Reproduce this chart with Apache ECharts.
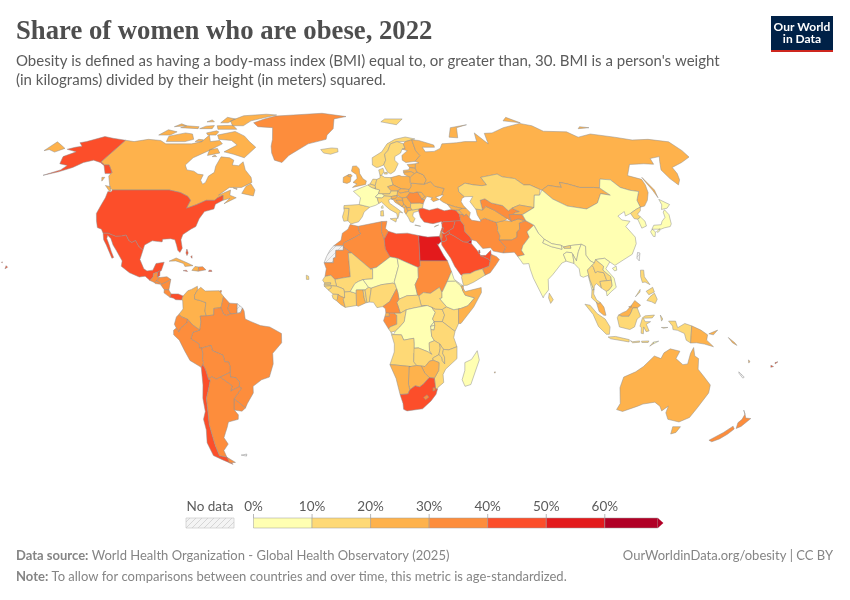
<!DOCTYPE html>
<html>
<head>
<meta charset="utf-8">
<title>Share of women who are obese, 2022</title>
<script src="https://cdn.jsdelivr.net/npm/echarts@6/dist/echarts.min.js"></script>
<style>html,body{margin:0;padding:0;background:#fff}#chart{width:850px;height:600px}</style>
</head>
<body>
<div id="chart"></div>
<script>
// values are estimates read from the colour bands of the picture
var americasNames = ['Canada','United States','Mexico','Greenland','Guatemala','Belize','Honduras','El Salvador','Nicaragua','Costa Rica','Panama','Cuba','Haiti','Dominican Republic','Jamaica','Puerto Rico','Bahamas','Trinidad and Tobago','Colombia','Venezuela','Guyana','Suriname','Brazil','Ecuador','Peru','Bolivia','Paraguay','Uruguay','Chile','Argentina'];
var americasValues = [27,43,41,35,34,42,33,36,37,37,42,28,25,38,41,42,45,38,28,28,35,37,33,33,35,35,35,35,43,37];
var europeNames = ['Iceland','Ireland','United Kingdom','France','Spain','Portugal','Belgium','Netherlands','Luxembourg','Germany','Switzerland','Denmark','Norway','Sweden','Finland','Estonia','Latvia','Lithuania','Poland','Czechia','Slovakia','Hungary','Austria','Slovenia','Croatia','Bosnia and Herzegovina','Serbia','Montenegro','Albania','North Macedonia','Greece','Bulgaria','Romania','Moldova','Ukraine','Belarus','Russia','Italy','Cyprus'];
var europeValues = [19,27,29,9.7,17,20,15,16,18,19,9,15,16,15,22,24,27,27,23,24,22,26,16,21,27,25,26,27,22,26,17,19,33,26,25,26,25,15,16];
var asiaNames = ['Turkey','Georgia','Armenia','Azerbaijan','Syria','Lebanon','Israel','Jordan','Iraq','Saudi Arabia','Kuwait','Qatar','United Arab Emirates','Oman','Yemen','Iran','Afghanistan','Pakistan','Turkmenistan','Uzbekistan','Kazakhstan','Kyrgyzstan','Tajikistan','Mongolia','China','North Korea','South Korea','Japan','India','Nepal','Bhutan','Bangladesh','Sri Lanka','Myanmar','Thailand','Laos','Vietnam','Cambodia','Malaysia','Brunei','Indonesia','Philippines','East Timor'];
var asiaValues = [44,30,27,30,43,41,33,46,46,44,52,47,41,34,18,35,22,31,23,33,17,28,31,27,8,16,8,5,9.8,9,18,9,18,9,15,15,3,15,25,27,15,13,6];
var oceaniaNames = ['Papua New Guinea','Solomon Islands','Vanuatu','Fiji','Australia','New Zealand'];
var oceaniaValues = [25,27,27,42,29,34];
var africaNames = ['Morocco','Algeria','Tunisia','Libya','Egypt','Mauritania','Mali','Senegal','Gambia','Guinea-Bissau','Guinea','Sierra Leone','Liberia','Ivory Coast','Burkina Faso','Ghana','Togo','Benin','Niger','Nigeria','Chad','Sudan','South Sudan','Central African Republic','Cameroon','Equatorial Guinea','Gabon','Congo','DR Congo','Uganda','Rwanda','Burundi','Kenya','Tanzania','Ethiopia','Eritrea','Djibouti','Somalia','Angola','Zambia','Malawi','Mozambique','Zimbabwe','Botswana','Namibia','South Africa','Lesotho','Eswatini','Madagascar','Mauritius','Cape Verde'];
var africaValues = [32,34,38,47,51,33,19,17,18,15,14,15,30,18,8,24,14,14,9,17,9,31,17,15,31,30,35,18,9,16,9,8,15,17,6,7,22,21,15,15,15,11,26,26,24,44,35,38,7,25,17];

var legendTicks = [0,10,20,30,40,50,60];
var legendColors = ['#ffffb2','#fed976','#feb24c','#fd8d3c','#fc4e2a','#e31a1c','#b10026'];

// hand traced, low resolution outlines as lon,lat. There is no map file in the sandbox.
var outlines = {
'Canada':['-141,69.6 -135,69 -128,70 -120,69.5 -115,68 -108,68 -100,68 -95,69 -94,72 -90,69 -85,69.5 -82,68 -87,65 -93,62 -94.5,59 -92,57 -88,56.5 -85,55.3 -82,55 -82,52.9 -80,51.3 -79,52 -79,54.5 -77,56 -78,58.5 -78,62.4 -73,62 -70,61 -69.5,59 -66,58.7 -64.5,60.3 -61.5,57 -57,54 -55.7,52 -60,50 -66,50 -70,47 -65,49 -64.5,47 -61,46 -66,43.7 -64,45.8 -67,45 -67.8,47 -70,46 -71,45 -75,45 -79,43.3 -83,42 -82.5,45 -84.5,46.5 -89,48 -95,49 -123,49 -125,50 -130,54.5 -130,56 -135,59 -137.5,59 -141,60.3','-61.5,66.5 -65,62 -72,63.5 -78,64.5 -73,67.5 -78,69.5 -86,70 -89,72 -80,73.7 -72,71.5 -67,69','-105,69 -116,69 -118,71.5 -110,73 -105,72.5 -101,70','-118,72 -125,72 -123,74.5 -116,73.5','-62,82.5 -70,83 -85,82 -90,79 -85,76.5 -78,76.5 -76,79 -68,81','-80,74.7 -92,74.7 -95,76.5 -85,76.7','-88,80 -95,81 -95,78 -90,78','-105,75 -117,75.5 -115,76.5 -106,76','-90,72 -95,72 -97,73 -92,74 -90,73.5','-80,64 -86,63 -87,65.5 -83,66','-59,47.7 -53,46.7 -53,49 -56,51.5 -58,50.5','-128,50.8 -124,48.5 -123.5,48.5 -125,50.3','-115,76.5 -122,76 -120,77.5','-96,75 -104,75 -102,76.3 -97,76.6','-95,69 -99,69 -98,70 -95,69.8','-100,78.5 -105,78.5 -103,79.5','-83,62.5 -80.5,62.5 -82,63.2','-133,54 -131.5,52.5 -131.5,54','-64,49.8 -62,49.2 -62,49.6'],
'United States':['-123,49 -95,49 -89,48 -84.5,46.5 -82.5,45 -83,42 -79,43.3 -75,45 -71,45 -70,46 -67.8,47 -67,45 -70,43.5 -70,41.7 -74,40.7 -75.5,38 -76,35 -78,34 -81,32 -81.3,30 -80,26.8 -80.7,25.2 -81.8,26 -82.8,28 -84,30 -86,30.4 -89.5,30.2 -89.5,29.2 -91,29.3 -94,29.6 -97,28 -97.2,26 -99.5,27.5 -101.5,29.7 -103,29 -104.5,29.7 -106.5,31.8 -108.2,31.4 -111,31.3 -114.8,32.5 -117.1,32.5 -118.5,34 -120.6,34.6 -122.4,37.2 -124,40 -124,43 -124,46 -124.7,48.4 -123,48.2','-141,69.6 -150,70.5 -156.5,71.3 -163,69 -166,68.5 -162,67 -165,66.5 -168,65.6 -161,64.5 -165,62.5 -162,59.5 -157,58.8 -158,57 -164,54.8 -158,56.2 -153,58 -150,60 -146,61 -141,60 -137.5,58.8 -133,55.5 -130,55.5 -130,56 -135,59 -137.5,59 -141,60.3','-156,19 -155,19.6 -155.8,20.2','-158.2,21.4 -157.7,21.3 -158,21.7'],
'Mexico':['-114.8,32.5 -111,31.3 -108.2,31.4 -106.5,31.8 -104.5,29.7 -103,29 -101.5,29.7 -99.5,27.5 -97.2,26 -97.8,22.5 -95.5,19 -94,18.2 -91.5,18.5 -90.5,21 -87,21.5 -87.8,18.3 -89,17.9 -91,17.2 -91,16 -92.2,14.6 -94.5,16.2 -97,15.9 -101.5,17.5 -105.5,20 -105.5,22 -109,26 -111,28 -112.8,30.5 -114.7,31.7 -114.6,30.5 -112.7,28 -111,25.5 -109.5,23.3 -110.2,23 -112,25.5 -114,28 -115.8,30 -117.1,32.5'],
'Greenland':['-73,78 -68,76 -58,75.5 -54,70 -53,67 -51,64 -48,61 -43.5,60 -41,63 -32,68 -22,70 -22,72 -19,75 -20,80 -12,81.5 -30,83.6 -50,82.5 -62,81.8 -68,80'],
'Guatemala':['-92.2,14.6 -91,16 -91,17.2 -89.2,17.8 -89.2,15.9 -88.3,15.7 -89.3,14.4 -90.2,13.8'],
'Belize':['-89.2,17.8 -88.3,18.4 -88.2,16.3 -89.2,15.9'],
'Honduras':['-88.3,15.7 -85,16 -83.2,15 -85,14 -87.4,13 -87.7,13.7 -89.3,14.4'],
'El Salvador':['-90.2,13.8 -89.3,14.4 -87.7,13.7 -87.8,13.2 -89.8,13.4'],
'Nicaragua':['-87.4,13 -85,14 -83.2,15 -83.7,11 -85.7,11.1'],
'Costa Rica':['-85.7,11.1 -83.7,11 -82.6,9.5 -83,8.2 -85.7,9.9'],
'Panama':['-83,8.2 -82.6,9.5 -79.5,9.5 -77.4,8.7 -77.9,7.2 -80.5,7.3 -81.5,7.9'],
'Cuba':['-84.9,21.9 -82,23.1 -77,21.3 -74.2,20.2 -77.7,19.9 -78.5,21 -82,22'],
'Haiti':['-74.5,18.4 -71.7,18.1 -71.7,19.7 -73.3,19.9'],
'Dominican Republic':['-71.7,18.1 -68.4,18.6 -69.9,19.8 -71.7,19.7'],
'Jamaica':['-78.3,18.3 -76.3,18 -76.9,18.5'],
'Puerto Rico':['-67.2,18 -65.7,18 -66,18.5 -67,18.5'],
'Bahamas':['-78,25 -77.4,24 -77,25 -77.9,26.5','-75.7,23.5 -75,23 -75.2,24'],
'Trinidad and Tobago':['-61.9,10 -61,10.1 -61,10.8 -61.7,10.7'],
'Colombia':['-77.4,8.7 -75.5,10.7 -74,11.2 -71.5,12.4 -71.3,11 -72.5,9 -72.4,7.5 -70,7 -67.5,6.2 -67.8,3 -67.2,1.2 -69.8,1.1 -69.5,-1 -70,-4.2 -73,-2.3 -75.2,-0.1 -77.7,0.8 -79,1.7 -77.2,3.8 -77.5,7 -77.9,7.2'],
'Venezuela':['-71.3,11 -72.5,9 -72.4,7.5 -70,7 -67.5,6.2 -67.8,3 -67.2,1.2 -64,1.5 -64,4 -61,4.3 -60.7,5.2 -60,8.5 -62,10.7 -68,10.6 -70,12'],
'Guyana':['-60,8.5 -60.7,5.2 -61,4.3 -59.8,1.8 -58.5,1.3 -56.8,1.9 -58,4 -57.3,6'],
'Suriname':['-57.3,6 -58,4 -56.8,1.9 -54,2.2 -54,5.8'],
'French Guiana':['-54,5.8 -54,2.2 -52.5,2.3 -51.7,4.2'],
'Brazil':['-51.7,4.2 -52.5,2.3 -54,2.2 -56.8,1.9 -58.5,1.3 -59.8,1.8 -61,4.3 -64,4 -64,1.5 -67.2,1.2 -69.8,1.1 -69.5,-1 -70,-4.2 -73,-5 -74,-7.5 -70.5,-9.5 -70.5,-11 -69.5,-11 -65.4,-10 -65,-12 -60.5,-13.7 -60,-16.2 -58.3,-16.3 -57.8,-18 -58,-20.2 -58,-22 -55.7,-22.2 -54.3,-24 -54.6,-25.6 -53.7,-26.2 -57.6,-30.2 -53.2,-33.7 -52,-32 -48.7,-28 -48.5,-25.5 -44.5,-23 -41,-22 -39,-17 -39,-13 -35,-9 -35,-5.5 -40,-3 -44,-2.5 -48,-1 -50.5,0 -51,3'],
'Ecuador':['-80.1,-3.4 -80.9,-2 -80,0.8 -79,1.7 -77.7,0.8 -75.2,-0.1 -75.5,-1.5 -78.3,-3.5 -79,-5'],
'Peru':['-80.1,-3.4 -79,-5 -78.3,-3.5 -75.5,-1.5 -75.2,-0.1 -73,-2.3 -70,-4.2 -73,-5 -74,-7.5 -70.5,-9.5 -70.5,-11 -69.5,-11 -69.2,-13 -69.5,-15.3 -69.2,-16.5 -69.6,-17.3 -70.4,-18.3 -75,-15.7 -77,-12 -79,-8 -81.3,-6 -81.3,-4.3'],
'Bolivia':['-69.5,-11 -65.4,-10 -65,-12 -60.5,-13.7 -60,-16.2 -58.3,-16.3 -57.8,-18 -58,-20.2 -62.6,-22 -64.3,-22.8 -66.3,-21.8 -67.8,-22.8 -68.7,-19 -69.6,-17.3 -69.2,-16.5 -69.5,-15.3 -69.2,-13'],
'Paraguay':['-58,-20.2 -58,-22 -55.7,-22.2 -54.3,-24 -54.6,-25.6 -58.6,-27.3 -57.7,-25.3 -62.6,-22'],
'Uruguay':['-58.4,-33.9 -57.6,-30.2 -53.2,-33.7 -55,-34.9 -58.4,-34.5'],
'Chile':['-69.6,-17.3 -70.4,-18.3 -70.5,-25 -71.5,-30 -71.7,-35 -73.5,-38 -73.7,-42 -75.5,-47 -75,-52 -71,-53.8 -68,-55 -67,-55.5 -68.6,-52.6 -72,-52 -72,-48 -71.7,-44 -71.5,-40 -70.5,-35 -69.9,-30 -68.3,-26.5 -67,-23 -67.8,-22.8 -68.7,-19'],
'Argentina':['-62.6,-22 -64.3,-22.8 -66.3,-21.8 -67.8,-22.8 -67,-23 -68.3,-26.5 -69.9,-30 -70.5,-35 -71.5,-40 -71.7,-44 -72,-48 -72,-52 -68.6,-52.6 -68.7,-50 -65.5,-47.5 -66.5,-45 -65,-43 -63.5,-41 -62.3,-39 -57.5,-38 -57,-36.3 -58.4,-34.5 -58.4,-33.9 -57.6,-30.2 -53.7,-26.2 -54.6,-25.6 -58.6,-27.3 -57.7,-25.3','-68.5,-52.7 -68.6,-54.9 -65.3,-54.7'],
'Falkland Islands':['-61,-51.8 -58,-51.4 -58.5,-52.2'],
'Iceland':['-24,65.5 -22,64 -18,63.5 -14,64.5 -14.5,66 -18,66.2'],
'Portugal':['-9,42 -6.5,41.9 -6.9,38.2 -6.9,37.2 -8.8,37 -9.5,38.7 -8.8,41'],
'Spain':['-9,43 -1.8,43.4 3.2,42.4 0.5,40.5 -0.3,38.7 -2,36.8 -5.5,36 -6.9,37.2 -6.9,38.2 -6.5,41.9 -9,42'],
'France':['-1.8,43.4 3.2,42.4 6,43.1 7.5,43.8 6.8,46 6,46.3 7.5,47.6 8.2,49 6.2,49.5 4.2,50 2.5,51 -1.5,49.7 -4.7,48.5 -1.2,46','8.6,42 9.5,42 9.4,43 8.7,42.6'],
'Belgium':['2.5,51 4.2,50 6.2,49.5 6.1,50.8 3.5,51.4'],
'Luxembourg':['5.8,49.5 6.4,49.5 6.1,50.1'],
'Netherlands':['3.5,51.4 6.1,50.8 7,53.2 5,53.3'],
'Germany':['6.1,50.8 6.2,49.5 8.2,49 7.5,47.6 9.5,47.5 13,47.5 13.8,48.7 12.2,50.3 15,51 14.2,53.9 11,54 9.5,54.8 8.7,54.9 8.7,53.8 7,53.2'],
'Switzerland':['6,46.3 7.5,47.6 9.5,47.5 10.4,46.7 9,45.9 6.8,46'],
'Austria':['9.5,47.5 13,47.5 13.8,48.7 17,48.7 16.5,46.9 13.7,46.5 10.4,46.7'],
'Italy':['6.8,46 9,45.9 10.4,46.7 13.7,46.5 13.6,45.6 12.3,45.2 12.5,44 16,41.9 18.5,40.2 17,40.5 16.5,39 16,38 15.7,40 12.5,41.5 10.5,43 8.8,44.4 7.5,43.8','12.5,38 15.6,38.2 15.1,36.7','8.2,39 9.6,39 9.5,41.1 8.3,40.9'],
'United Kingdom':['-5.2,50 1.3,51.2 1.7,52.6 0,53.4 -1.7,55.5 -2,57.5 -3.5,58.6 -5.5,58.5 -6,56.5 -3.3,55 -3,53.5 -5,52 -3,51.4','-6.2,54.1 -5.5,54.5 -6.2,55.2 -7.4,55.1 -8,54.5'],
'Ireland':['-6.2,53 -6.2,54.1 -8,54.5 -7.4,55.1 -10,54 -10,52 -8,51.6 -6.4,52.2'],
'Denmark':['8.7,54.9 9.5,54.8 10.9,56.2 10.5,57.7 8.2,57','11,55.3 12.5,55.3 12.5,56 11,55.9'],
'Norway':['5,59 7,58 8.2,58.1 11,59 12.3,61 12,63.5 14,65 16,68 20,69 25,69 29,69.8 31,70.2 25.5,71.1 19,70 14,68 10.5,64.5 5,62','12,78.5 22,77 27,80 15,80'],
'Sweden':['11,59 12.8,56 14.3,55.4 16.5,56.5 18.8,59.5 17.2,61 17.5,62.5 21,64 22.2,65.7 24,66 23.5,68 20,69 16,68 14,65 12,63.5 12.3,61'],
'Finland':['24,66 22.2,65.7 25,65 21.5,63 21.3,61 23,60 28,60.5 31.5,62.9 29.7,65 29,69.8 25,69 23.5,68'],
'Estonia':['23.5,59.2 28,59.5 27.5,57.6 24.5,58'],
'Latvia':['21,56.8 24,57.1 24.5,58 27.5,57.6 28,56.1 26.5,55.5 25,56.3 21,56'],
'Lithuania':['21,56 25,56.3 26.5,55.5 24,54 23,54.4 21.2,55.2'],
'Poland':['14.2,53.9 15,51 18.8,49.5 22.7,49.2 24,50.5 23.7,52 24,54 23,54.4 19.8,54.4 18.5,54.8'],
'Czechia':['12.2,50.3 13.8,48.7 17,48.7 18.8,49.5 15,51'],
'Slovakia':['17,48.7 18,47.8 22.2,48.4 22.7,49.2 18.8,49.5'],
'Hungary':['16.5,46.9 17,48.7 18,47.8 22.2,48.4 22.9,48 21,46.2 18.9,45.9'],
'Slovenia':['13.7,46.5 16.5,46.9 16.5,46.5 15.5,45.6 13.6,45.5'],
'Croatia':['13.6,45.5 15.5,45.6 16.5,46.5 18.9,45.9 19,45 15.8,45 18.5,42.5 15.2,44.3 14.5,45.2'],
'Bosnia and Herzegovina':['15.8,45 19,45 19.3,43.5 18.5,42.5'],
'Serbia':['18.9,45.9 21,46.2 22.7,44.2 22.4,42.3 20.5,42.2 20.3,42.8 19.3,43.5 19,45'],
'Montenegro':['18.5,42.5 19.3,43.5 20.3,42.8 19.4,41.9'],
'Albania':['19.4,41.9 20.3,42.8 20.5,42.2 21,40.9 20,39.7 19.3,40.5'],
'North Macedonia':['20.5,42.2 22.4,42.3 23,41.3 21,40.9'],
'Greece':['20,39.7 21,40.9 23,41.3 26.3,41.7 26,40.9 23.5,40.3 23,39 24,38 23,36.5 21.7,36.8 21,38.3','23.6,35.5 26.2,35.1 26,35.3 24,35.6'],
'Bulgaria':['22.4,42.3 23,41.3 26.3,41.7 28,42 28.6,43.7 27,44 22.9,43.9 22.7,44.2'],
'Romania':['22.9,48 24.5,47.9 26.6,48.3 28,46 28.2,45.5 29.6,45.2 28.6,43.7 27,44 22.9,43.9 22.7,44.2 21,46.2'],
'Moldova':['26.6,48.3 28.5,48.1 30,46.4 28.2,45.5 28,46'],
'Ukraine':['22.2,48.4 22.7,49.2 24,50.5 24,51.7 30.5,51.3 34,52.3 35.5,50.5 40,49.6 38.2,47.1 35,46.2 36.5,45.3 33.5,44.5 32.5,45.5 33.5,46 30.8,46.5 29.6,45.2 28.2,45.5 30,46.4 28.5,48.1 26.6,48.3 24.5,47.9 22.9,48'],
'Belarus':['24,51.7 30.5,51.3 32,53 31,55 28,56.1 26.5,55.5 24,54 23.7,52'],
'Russia':['28,59.5 27.5,57.6 28,56.1 31,55 32,53 30.5,51.3 34,52.3 35.5,50.5 40,49.6 38.2,47.1 39,47 37.5,46 36.7,45.3 38,44.4 40,43.5 43.5,42.5 46.5,41.9 48.5,41.9 47.5,43 46.8,44.5 47.5,45.7 49,46.4 46.8,48.3 47,50 51,51.7 55,51 59,50.7 61.5,51 60,54 69,55.3 71,54.2 77,53.5 80,51 83,51 87,49.2 87.8,49 92,50.8 98,50 98.5,52 102,51.4 107,50 114,50 116.7,49.8 120,53.3 125,53 127,50 130.8,48.9 134.7,48.4 131,45 130.7,42.4 133,42.8 136,45 139,48 140.5,51 141,53.2 135.5,54.7 142,59.2 150,59.5 155,59.3 156.7,61.7 163,62.5 160,60.5 155.7,57 155.7,53.5 157,51 160,53 162,55.5 163,58 171,60 179,62.3 180,65 180,68.9 170,70 160,69.7 152,71 140,72.5 130,71 127,73.5 113,73.8 110,76.5 104,77.7 90,75.5 80,73 75,72.8 73,68 69,73 67,69 60,69 55,68.5 46,68 44,66 40,64.7 35,64.5 34,66.5 41,66.5 41,67.5 33,69.5 29,69.8 29.7,65 31.5,62.9 28,60.5 30,59.9','-180,68.9 -175,67.5 -170,66 -173,64.4 -178,65.5 -180,65','52,71 57,70.7 60,75.5 68,77 56,75.5','142,54 143,49 142,46 142,49 141.8,52','137,75 145,75.5 140,76','95,79 105,78 100,81'],
'Turkey':['26,40.9 26.3,41.7 28,42 31,41.2 35,42 38,41 41.5,41.5 43.5,41.2 44.8,39.7 44.8,37.2 42.3,37.1 38,36.8 36.7,36.8 36,36 36,36.9 32,36.1 30.5,36.3 28,36.7 26.5,38.5'],
'Cyprus':['32.4,34.8 34.5,35.6 33,35.3'],
'Georgia':['40,43.5 43.5,42.5 46.5,41.9 45,41.2 43.5,41.2 41.5,41.5'],
'Armenia':['43.5,41.2 45,41.2 46.5,39.5 44.8,39.7'],
'Azerbaijan':['45,41.2 46.5,41.9 48.5,41.9 50,40.3 49,38.4 48,39.7 46.5,38.9 46.5,39.5'],
'Syria':['36,36 36.7,36.8 38,36.8 42.3,37.1 41,34.5 38.8,33.4 36.8,32.3 35.8,33 36.5,34.5 35.9,34.6'],
'Lebanon':['35.1,33.1 35.8,33 36.5,34.5 35.9,34.6'],
'Israel':['34.3,31.3 34.95,29.4 35.5,31 35.6,32.6 35.8,33 35.1,33.1'],
'Jordan':['34.95,29.4 36.1,29.2 37.5,30 37,31.5 39,32.3 38.8,33.4 36.8,32.3 35.6,32.6 35.5,31'],
'Iraq':['38.8,33.4 41,34.5 42.3,37.1 44.8,37.2 46,35.7 46,33 48,31 48.5,30 46.5,29.1 44.7,29.2 41,31.3 39,32.3'],
'Saudi Arabia':['34.95,29.4 36.1,29.2 37.5,30 37,31.5 39,32.3 41,31.3 44.7,29.2 46.5,29.1 47.7,28.5 48.2,28.6 50,26.5 51.5,24.5 51.6,24 55,22.7 55.7,22 55,20 52,19 48.8,18.2 46.5,17.2 43.3,17 42.6,16.5 40,20 38.5,23 35,28'],
'Kuwait':['46.5,29.1 48.5,30 48.2,28.6 47.7,28.5'],
'Qatar':['50.8,24.8 51.6,25 51.6,26 51.2,26.1'],
'United Arab Emirates':['51.6,24 54,24.1 56.4,26 56.4,24.5 55.7,22 55,22.7'],
'Oman':['55.7,22 56.4,24.5 58.7,23.6 59.8,22.5 58,20.4 55.3,17.5 53,16.6 52,19 55,20'],
'Yemen':['43.3,17 46.5,17.2 48.8,18.2 52,19 53,16.6 48,14 45,12.8 43.4,12.7 42.7,15.8'],
'Iran':['44.8,39.7 46.5,39.5 46.5,38.9 48,39.7 49,38.4 50,37.4 54,36.9 54,37.4 56,38.2 61,36.6 61.2,35 60.8,33.5 61.5,31.5 60.8,29.9 63.3,27.2 61.8,25 57.5,25.7 56.5,27 53,26.7 50.5,29.5 48.5,30 48,31 46,33 46,35.7 44.8,37.2'],
'Afghanistan':['61,36.6 65,37.3 68,37 71.5,37.9 74.8,37.2 71.5,36.3 71,34 69.5,33 69,31 66.4,29.9 60.8,29.9 61.5,31.5 60.8,33.5 61.2,35'],
'Pakistan':['60.8,29.9 66.4,29.9 69,31 69.5,33 71,34 71.5,36.3 74.8,37.2 77.8,35.5 74,33 74.5,31 71,27.8 70,26 71,24.3 68,23.7 66.7,25.3 61.8,25 63.3,27.2'],
'Turkmenistan':['53,42 53,39.5 54,37.4 56,38.2 61,36.6 65,37.3 66.5,38 61.5,41.2 58,42.7 56,41.3 52.8,41.7'],
'Uzbekistan':['56,45 56,41.3 58,42.7 61.5,41.2 66.5,38 68,37 67.8,39.5 69.5,39.6 71,40.3 73,40.7 70,42 68,41 66,43 61,44 58.5,45.6'],
'Kazakhstan':['47,50 51,51.7 55,51 59,50.7 61.5,51 60,54 69,55.3 71,54.2 77,53.5 80,51 83,51 87,49.2 85.5,47 83,47 80.5,42.2 74,43.2 70,42 68,41 66,43 61,44 58.5,45.6 56,45 56,41.3 52.8,41.7 51,44.5 53,46.5 49,46.4 46.8,48.3'],
'Kyrgyzstan':['70,42 74,43.2 80.5,42.2 73.8,39.5 69.5,39.6 71,40.3 73,40.7'],
'Tajikistan':['67.8,39.5 69.5,39.6 73.8,39.5 74.8,37.2 71.5,37.9 68,37'],
'Mongolia':['87.8,49 92,50.8 98,50 98.5,52 102,51.4 107,50 114,50 116.7,49.8 119.8,47 115.5,47.6 111.5,44 105,41.7 96.5,42.8 91,45.5'],
'China':['74,39.5 80.5,42.2 83,47 85.5,47 87.8,49 91,45.5 96.5,42.8 105,41.7 111.5,44 115.5,47.6 119.8,47 116.7,49.8 120,53.3 125,53 127,50 130.8,48.9 134.7,48.4 131,45 130.7,42.4 128,41.5 124.4,40 121.5,39 122,40.7 118,39 119,37.5 122.5,37 119.5,35 122,31 121.5,28.5 118.5,24.5 114,22.3 110,20.3 108,21.6 106,23 102,22.5 101.2,21.2 99.5,22 98,24.2 98.7,27.5 97,28.3 92,27.8 88.9,27.3 88,27.9 84,28.5 81,30.2 79,32.5 78,35.5 77.8,35.5 74.8,37.2','108.7,19.2 110.5,20 110.5,18.5 109.5,18.2'],
'Taiwan':['120.2,23 121,22 122,25 121,25.2'],
'North Korea':['124.4,40 128,41.5 130.7,42.4 129.7,41 127.5,39.7 128.3,38.6 126.5,37.8 125,38'],
'South Korea':['126.5,37.8 128.3,38.6 129.4,37 129,35.2 126.5,34.4'],
'Japan':['130.9,34 132.5,35.5 136,35.7 137.2,37 139.5,38.5 140,40.5 141.3,41.4 142,39.5 140.8,36 139.7,35 136.7,34.5 135,34','140,41.5 141.5,43.3 141.8,45.4 145.3,43.4 143,42','129.8,33 131,34 132,33 131,31.2 130.2,31.3','132.5,33 134.5,34.2 134.3,33.5 133,32.8'],
'India':['68,23.7 71,24.3 70,26 71,27.8 74.5,31 74,33 77.8,35.5 78,35.5 79,32.5 81,30.2 80,28.8 83.5,27.4 88,26.4 88,27.9 88.9,27.3 89,26.8 92,26.8 92,27.8 97,28.3 95,25.5 93.5,22 92.3,24.5 92,25.1 89.8,25.3 88.2,24.5 89,21.9 87,21.2 82.3,16.7 80.2,15 80,11 78,8.9 77.5,8 76,11 73.8,15.5 72.8,19 72.5,21 70,20.8 69,22.3'],
'Nepal':['80,28.8 81,30.2 84,28.5 88,27.9 88,26.4 83.5,27.4'],
'Bhutan':['88.9,27.3 92,27.8 92,26.8 89,26.8'],
'Bangladesh':['88.2,24.5 89.8,25.3 92,25.1 92.3,24.5 92.3,21 89,21.9'],
'Sri Lanka':['79.8,8 80.2,9.8 81.8,7.3 80.6,5.9'],
'Myanmar':['92.3,21 92.3,24.5 93.5,22 95,25.5 97,28.3 98.7,27.5 98,24.2 99.5,22 101.2,21.2 100,20.3 97.7,18.5 98.2,15 99.5,11 98.7,11 97.7,16.5 95.5,15.8 94.3,16.3 94.2,19'],
'Thailand':['97.7,18.5 100,20.3 100.5,19.5 101,17.5 102,18 104.7,17.5 105.5,14.5 102.5,14.2 102.9,11.7 100.9,13.4 99.9,12.5 99.3,9.5 100.4,7.3 102,6.2 101,5.7 100,6.5 98.3,8 98.7,11 99.5,11 98.2,15'],
'Laos':['100,20.3 101.2,21.2 102,22.5 105,20 104.5,18.5 107.5,16 107.5,14.7 105.5,14.5 104.7,17.5 102,18 101,17.5 100.5,19.5'],
'Vietnam':['102,22.5 106,23 108,21.6 105.8,19 108.8,15.5 109.3,12 107,10.4 105,8.7 104.8,10.5 106,11 107.5,12.5 107.5,14.7 107.5,16 104.5,18.5 105,20'],
'Cambodia':['102.9,11.7 102.5,14.2 105.5,14.5 107.5,14.7 107.5,12.5 106,11 104.8,10.5'],
'Malaysia':['100.2,6.5 101,5.7 102,6.2 103.4,4.5 104.2,1.4 103.3,1.4 101.3,2.8','109.6,1.5 111.3,2.4 113,3 115,4.9 116.8,7 119.2,5.2 117.7,4.2 115.8,4.2 115,2.5 114,1 111,1'],
'Brunei':['114,4.6 115.3,5 115,4.2'],
'Indonesia':['95.3,5.6 97.5,5.2 100.5,2 103.8,0 106,-3 105.8,-5.8 104.5,-5.8 101,-2.8 98.7,1.7','105.3,-6.8 108.5,-6.6 114.5,-7.8 114.5,-8.7 106.5,-7.5','109,0.5 109.6,1.5 111,1 114,1 115,2.5 115.8,4.2 117.7,4.2 119,1 117.5,0 116.5,-3 114.5,-4 110,-3','119.8,0.5 121,1.2 125,1.5 124,0.4 120.2,0.3 121,-1 123.3,-1 121.5,-2 122.8,-4.5 121.5,-4.8 120.4,-3 120.4,-5.6 119.4,-5.4 119.4,-3.3 118.8,-2.7','131,-0.8 134,-0.8 135,-3.3 138,-1.7 141,-2.6 141,-9.1 139,-8 138,-5.5 135,-4.3 133,-4 132.8,-2.7','127.5,1.5 128.5,0 128,-0.8','115,-8.2 116,-8.6 119,-8.3 119,-8.8 116,-9','119.8,-8.4 123,-8.3 122.7,-8.9 120,-8.9','123.5,-10.3 125,-8.7 125,-9.4','128,-3.2 130.8,-3.2 129,-3.5'],
'East Timor':['125,-8.7 127.2,-8.4 125,-9.4'],
'Philippines':['120.4,16 120.8,18.5 122.2,18.5 122,16 124,13 122,14 120.8,13.8','122,7 123.5,8.5 125.5,9.8 126.5,7.5 125.5,5.8 124,6.5','122,10.5 125,12 125.5,10.2 123,9.2','117.2,8.4 119.5,11.2 119.3,10.2'],
'Papua New Guinea':['141,-2.6 145,-4.2 148,-6 147.8,-8 151,-10.5 147,-9.5 143.5,-9 141,-9.1','148.5,-5.6 152.2,-4.2 150.5,-6'],
'Solomon Islands':['157,-7 160,-9 161,-10 159,-9'],
'Vanuatu':['167,-15.5 167.8,-16 167.5,-16.7'],
'Fiji':['177.3,-17.5 178.6,-18 177.5,-18.3','178.8,-16.5 180,-16.2 179,-17'],
'New Caledonia':['164,-20 167,-22 166.5,-22.4 164.2,-20.5'],
'Australia':['114.2,-22 113.5,-26 115.7,-32 115,-34.3 118,-35 124,-33 126,-32.2 131,-31.5 134,-33 135.7,-34.8 137.8,-33 138,-35.5 140.5,-38 146.3,-39 150,-37.3 151.3,-33.5 153.5,-28 153,-25 149.5,-22 146,-19 145.3,-15 143.5,-14 142.5,-10.8 141.5,-13 141,-17 139,-17.3 135.5,-15 136.8,-12.2 132.5,-11.3 130,-12.8 129,-15 126,-14 122,-18 119,-20','144.7,-40.8 148.3,-40.8 148,-43 146,-43.6'],
'New Zealand':['166.5,-46 168.5,-46.6 171,-45.5 173,-43.7 174.3,-41.7 172.7,-40.6 170.5,-43','172.8,-34.5 174.5,-36 174.7,-38 173.8,-39.3 175,-41.5 176.5,-40.7 178.5,-37.7 176,-37.5 175,-36.5'],
'Morocco':['-5.9,35.8 -2.2,35.1 -1.7,33.2 -1,32.2 -3.7,30.9 -8.7,28.7 -8.7,27.7 -13,27.7 -9.8,29.8 -9.3,32.5 -6.8,34'],
'Western Sahara':['-8.7,27.7 -8.7,26 -12,26 -12,23.4 -13,23 -13,21.3 -17,21.3 -16,23.7 -14.5,26.2 -13,27.7'],
'Algeria':['-2.2,35.1 8.6,36.9 8.4,33 9.5,30.2 9.9,26.5 11.9,23.5 5.8,19.5 3.2,19 -5,25 -8.7,27.2 -8.7,28.7 -3.7,30.9 -1,32.2 -1.7,33.2'],
'Tunisia':['8.6,36.9 11,37 10.2,34.3 11.5,33.2 9.5,30.2 8.4,33'],
'Libya':['11.5,33.2 15,32.3 20,32.5 25,31.6 25,20 24,19.5 15,23 11.9,23.5 9.9,26.5 9.5,30.2'],
'Egypt':['25,31.6 29,31 34.3,31.3 34.95,29.4 33.2,28 33,28.5 35.5,24 37,22 25,22'],
'Mauritania':['-17,21.3 -13,21.3 -13,23 -12,23.4 -12,26 -8.7,26 -8.7,27.2 -5,25 -6.5,25 -5.5,16 -9,15.5 -12.2,15 -14,16.6 -16.5,16.1 -16,19'],
'Mali':['-12.2,15 -9,15.5 -5.5,16 -6.5,25 -5,25 3.2,19 4.2,19 4.2,15.2 1,15 0,14.9 -2,14.2 -3.5,13.4 -5.5,10.4 -8,10.2 -8.4,11.4 -11.4,12.4'],
'Senegal':['-16.5,16.1 -14,16.6 -12.2,15 -11.4,12.4 -13.7,12.6 -16.7,12.4 -16.8,13.2 -14,13.2 -14,13.7 -16.6,13.6 -17.5,14.7'],
'Gambia':['-16.8,13.2 -14,13.2 -14,13.7 -16.6,13.6'],
'Guinea-Bissau':['-16.7,12.4 -13.7,12.6 -13.7,11.7 -15,11'],
'Guinea':['-13.7,12.6 -11.4,12.4 -8.4,11.4 -8,10.2 -7.9,8 -9.5,8.5 -10.7,9.3 -12.9,9.4 -15,11 -13.7,11.7'],
'Sierra Leone':['-13.3,9 -12.9,9.4 -10.7,9.3 -11,7.5 -11.5,7 -12.9,7.8'],
'Liberia':['-11.5,7 -11,7.5 -10.7,9.3 -9.5,8.5 -7.9,8 -8.5,7.5 -7.6,4.4 -9.5,5.4'],
'Ivory Coast':['-8.5,7.5 -7.9,8 -8,10.2 -5.5,10.4 -2.9,9.7 -2.8,5.1 -7.6,4.4'],
'Burkina Faso':['-5.5,10.4 -3.5,13.4 -2,14.2 0,14.9 2.4,12 0.9,11 0,11 -2.9,11 -2.9,9.7'],
'Ghana':['-2.9,11 0,11 0.5,8 1.2,6.1 -2,4.8 -2.8,5.1 -2.9,9.7'],
'Togo':['0,11 0.9,11 1.7,6.2 1.2,6.1 0.5,8'],
'Benin':['0.9,11 2.4,12 3.6,11.7 2.7,6.4 1.7,6.2'],
'Niger':['0,14.9 1,15 4.2,15.2 4.2,19 3.2,19 5.8,19.5 11.9,23.5 15,23 15.5,20 13.5,14 14,13 13,13.6 8,13 3.6,11.7 2.4,12'],
'Nigeria':['2.7,6.4 3.6,11.7 8,13 13,13.6 14,13 14.5,11.5 11.5,6.6 8.5,4.7 6,4.3 4.5,6.3'],
'Chad':['14,13 13.5,14 15.5,20 15,23 24,19.5 24,15.7 22.5,13 23.5,9 18.9,8.8 15.5,7.5 15,10 14.5,11.5'],
'Sudan':['24,19.5 25,20 25,22 37,22 38.5,18 36.5,14.3 34,10 33,12 29,9.7 26,10 24,8.7 23.5,9 22.5,13 24,15.7'],
'South Sudan':['24,8.7 26,10 29,9.7 33,12 34,10 34,8 33,7.7 35.9,4.6 34,3.6 31,3.7 29.5,4.4 27.5,5.1 25,5'],
'Central African Republic':['14.5,6.2 15.5,7.5 18.9,8.8 23.5,9 24,8.7 25,5 27.5,5.1 22,4.2 18.6,3.5 16,2.2 15,5'],
'Cameroon':['8.5,4.7 11.5,6.6 14.5,11.5 15,10 15.5,7.5 14.5,6.2 15,5 16,2.2 13.3,2.2 11.3,2.2 9.8,2.3 9.6,3.9'],
'Equatorial Guinea':['9.8,2.3 11.3,2.2 11.3,1 9.4,1'],
'Gabon':['9.4,1 11.3,1 11.3,2.2 13.3,2.2 14.5,1.4 14.5,-2 11.6,-3 11,-3.8 8.8,-0.7'],
'Congo':['11,-3.8 11.6,-3 14.5,-2 14.5,1.4 13.3,2.2 16,2.2 18.6,3.5 17.7,-1 15.8,-3 14,-4.5 12,-5'],
'DR Congo':['12,-5 12.3,-6 13,-5.9 14,-4.5 15.8,-3 17.7,-1 18.6,3.5 22,4.2 27.5,5.1 29.5,4.4 31,2.5 29.8,0 30.5,-1 29,-2.8 29.2,-4 29.5,-6.5 30.7,-8.2 28.5,-9 28.7,-12 29.8,-13.4 28,-12.4 24,-11 22,-11.1 22,-9.5 21.8,-7.3 17.5,-8 16.5,-6 13,-5.9'],
'Uganda':['31,3.7 34,3.6 35,1.5 34,-1 30.5,-1 29.8,0 31,2.5 29.5,4.4'],
'Rwanda':['29,-2.8 30.5,-1 30.8,-2.4'],
'Burundi':['29,-2.8 30.8,-2.4 30.5,-4.2 29.2,-4'],
'Kenya':['34,3.6 35.9,4.6 39,3.5 41,3.9 41,-1.7 39.5,-4.7 37.7,-3.5 34,-1 35,1.5'],
'Tanzania':['30.5,-1 34,-1 37.7,-3.5 39.5,-4.7 39,-7 40.5,-10.5 37,-11.7 34.7,-11.5 33,-9.4 30.7,-8.2 29.5,-6.5 29.2,-4 30.5,-4.2 30.8,-2.4'],
'Ethiopia':['36.5,14.3 40,14.4 42.3,12.5 43,11 42.8,10.9 44,9 48,8 45,5 42,4 41,3.9 39,3.5 35.9,4.6 33,7.7 34,8 34,10'],
'Eritrea':['38.5,18 39.5,15 43.3,12.5 42.3,12.5 40,14.4 36.5,14.3'],
'Djibouti':['42.3,12.5 43.3,12.5 43.3,11.5 43,11'],
'Somalia':['43.3,11.5 44,10.4 51,11.9 51,10 47.5,4.5 42,-1.7 41,-1.7 41,3.9 42,4 45,5 48,8 44,9 42.8,10.9 43,11'],
'Angola':['13,-5.9 16.5,-6 17.5,-8 21.8,-7.3 22,-9.5 22,-11.1 24,-11 22,-13 22,-16.2 23.4,-17.6 20.7,-18 13.9,-17.4 11.7,-17.3 13.5,-12.5 13.5,-9.5 12.3,-6'],
'Zambia':['22,-11.1 24,-11 28,-12.4 29.8,-13.4 28.7,-12 28.5,-9 30.7,-8.2 33,-9.4 33.3,-11 32.8,-13.5 30.2,-14.8 30.4,-15.6 28.8,-16 27,-18 25.3,-17.8 23.4,-17.6 22,-16.2 22,-13'],
'Malawi':['33,-9.4 34.7,-11.5 34.4,-13 35.3,-14.4 35.5,-17 34.3,-15.8 34,-14.5 32.8,-13.5 33.3,-11'],
'Mozambique':['34.7,-11.5 37,-11.7 40.5,-10.5 40.7,-15 36,-19 35,-21 35.5,-24 33,-26 32.9,-26.8 32,-26 31.3,-22.4 33,-19.5 33,-16.5 30.4,-15.6 30.2,-14.8 32.8,-13.5 34,-14.5 34.3,-15.8 35.5,-17 35.3,-14.4 34.4,-13'],
'Zimbabwe':['25.3,-17.8 27,-18 28.8,-16 30.4,-15.6 33,-16.5 33,-19.5 31.3,-22.4 29,-22.2 27,-20.5'],
'Botswana':['20,-18 20.7,-18 23.4,-17.6 25.3,-17.8 27,-20.5 29,-22.2 26.5,-24.7 25,-25.7 23,-25.3 20.7,-26.8 20,-24.7'],
'Namibia':['11.7,-17.3 13.9,-17.4 20.7,-18 20,-18 20,-24.7 20.7,-26.8 20,-28.4 16.5,-28.6 14.5,-22.5'],
'South Africa':['16.5,-28.6 20,-28.4 20.7,-26.8 23,-25.3 25,-25.7 26.5,-24.7 29,-22.2 31.3,-22.4 32,-26 32.9,-26.8 32.5,-28.5 30.5,-31 27,-34 20,-34.8 18.4,-34.2 18,-32'],
'Lesotho':['27,-29.7 28.5,-28.7 29.4,-29.6 28,-30.6'],
'Eswatini':['30.9,-26 32,-26 32,-27 31,-27.3'],
'Madagascar':['49.3,-12 50.4,-15.5 47.5,-24.8 45,-25.5 43.5,-23 44.4,-19.5 44.2,-16.5 47,-15.3'],
'Mauritius':['57.3,-20.4 57.8,-20.4 57.6,-19.9'],
'Cape Verde':['-24.5,15 -23.4,15 -23.6,16.2 -24.6,16.6']
};

// Robinson table, fitted to the picture: centre x 363, equator y 319
var robLat = [0,5,10,15,20,25,30,35,40,45,50,55,60,65,70,75,80,85,90];
var robPlen = [1,.9986,.9954,.99,.9822,.973,.96,.9427,.9216,.8962,.8679,.835,.7986,.7597,.7186,.6732,.6213,.5722,.5322];
var robPdfe = [0,.062,.124,.186,.248,.31,.372,.434,.4958,.5571,.6176,.6769,.7346,.7903,.8435,.8936,.9394,.9761,1];

function lookup(tab, lat) {
    var a = Math.min(Math.abs(lat), 89.999);
    var i = Math.floor(a / 5);
    return tab[i] + (tab[i + 1] - tab[i]) * (a / 5 - i);
}
function project(c) {
    var s = c[1] < 0 ? -1 : 1;
    return [363 + 2.333 * c[0] * lookup(robPlen, c[1]), 319 - 213 * s * lookup(robPdfe, c[1])];
}
function unproject(p) {
    var target = (319 - p[1]) / 213, s = target < 0 ? -1 : 1, lat = 0;
    for (var i = 0; i < robLat.length - 1; i++) {
        if (Math.abs(target) >= robPdfe[i] && Math.abs(target) <= robPdfe[i + 1]) {
            lat = s * (robLat[i] + 5 * (Math.abs(target) - robPdfe[i]) / (robPdfe[i + 1] - robPdfe[i]));
        }
    }
    return [(p[0] - 363) / (2.333 * lookup(robPlen, lat)), lat];
}

function parseRing(str) {
    return str.split(' ').map(function (pt) { return pt.split(',').map(Number); });
}

var features = [];
var box = [Infinity, Infinity, -Infinity, -Infinity];
Object.keys(outlines).forEach(function (name) {
    var rings = outlines[name].map(parseRing);
    rings.forEach(function (ring) {
        ring.forEach(function (pt) {
            var p = project(pt);
            box = [Math.min(box[0], p[0]), Math.min(box[1], p[1]), Math.max(box[2], p[0]), Math.max(box[3], p[1])];
        });
    });
    features.push({
        type: 'Feature',
        properties: { name: name },
        geometry: { type: 'MultiPolygon', coordinates: rings.map(function (r) { return [r]; }) }
    });
});
echarts.registerMap('world', { type: 'FeatureCollection', features: features });

var seriesData = [];
[[americasNames, americasValues], [europeNames, europeValues], [asiaNames, asiaValues], [oceaniaNames, oceaniaValues], [africaNames, africaValues]].forEach(function (g) {
    g[0].forEach(function (n, i) { seriesData.push({ name: n, value: g[1][i] }); });
});

function hatch() {
    var c = document.createElement('canvas');
    c.width = c.height = 6;
    var g = c.getContext('2d');
    g.fillStyle = '#f4f4f4'; g.fillRect(0, 0, 6, 6);
    g.strokeStyle = '#d6d6d6'; g.lineWidth = 1;
    g.beginPath(); g.moveTo(-1, 7); g.lineTo(7, -1); g.moveTo(-1, 1); g.lineTo(1, -1); g.moveTo(5, 7); g.lineTo(7, 5); g.stroke();
    return { image: c, repeat: 'repeat' };
}
var hatchFill = hatch();

// legend
var barX = 253.5, barY = 518, binW = 58.55, barH = 10;
var legendItems = [];
legendColors.forEach(function (col, i) {
    var x = barX + i * binW;
    var w = i === legendColors.length - 1 ? binW - 5.5 : binW;
    legendItems.push({ type: 'rect', shape: { x: x, y: barY, width: w, height: barH }, style: { fill: col, stroke: '#9a9a9a', lineWidth: 0.5 }, silent: true });
});
var lastX = barX + legendColors.length * binW - 5.5;
legendItems.push({ type: 'polygon', shape: { points: [[lastX, barY], [lastX + 5.5, barY + barH / 2], [lastX, barY + barH]] }, style: { fill: legendColors[legendColors.length - 1] }, silent: true });
legendTicks.forEach(function (t, i) {
    var x = barX + i * binW;
    legendItems.push({ type: 'line', shape: { x1: x, y1: barY - 4, x2: x, y2: barY }, style: { stroke: '#999', lineWidth: 0.7 }, silent: true });
    legendItems.push({ type: 'text', style: { text: t + '%', x: x, y: 507, align: 'center', verticalAlign: 'middle', font: '13.5px Lato', fill: '#5b5b5b' }, silent: true });
});
legendItems.push({ type: 'rect', shape: { x: 186, y: barY, width: 48, height: barH }, style: { fill: hatchFill, stroke: '#c8c8c8', lineWidth: 0.7 }, silent: true });
legendItems.push({ type: 'text', style: { text: 'No data', x: 210, y: 507, align: 'center', verticalAlign: 'middle', font: '13.5px Lato', fill: '#5b5b5b' }, silent: true });

var footRich = { b: { font: 'bold 13px Lato', fill: '#858585' }, n: { font: '13px Lato', fill: '#858585' } };

var headerItems = [
    { type: 'text', style: { text: 'Share of women who are obese, 2022', x: 16, y: 32, verticalAlign: 'middle', font: 'bold 26.7px "Liberation Serif"', fill: '#4e4e4e' }, silent: true },
    { type: 'text', style: { text: 'Obesity is defined as having a body-mass index (BMI) equal to, or greater than, 30. BMI is a person\'s weight', x: 16, y: 61, verticalAlign: 'middle', font: '15px Lato', fill: '#5b5b5b' }, silent: true },
    { type: 'text', style: { text: '(in kilograms) divided by their height (in meters) squared.', x: 16, y: 80, verticalAlign: 'middle', font: '15px Lato', fill: '#5b5b5b' }, silent: true },
    { type: 'rect', shape: { x: 771, y: 16, width: 62, height: 36 }, style: { fill: '#002147' }, silent: true },
    { type: 'rect', shape: { x: 771, y: 50, width: 62, height: 2 }, style: { fill: '#ce261e' }, silent: true },
    { type: 'text', style: { text: 'Our World', x: 802, y: 27, align: 'center', verticalAlign: 'middle', font: 'bold 12px Lato', fill: '#fff' }, silent: true },
    { type: 'text', style: { text: 'in Data', x: 802, y: 39, align: 'center', verticalAlign: 'middle', font: 'bold 12px Lato', fill: '#fff' }, silent: true },
    { type: 'text', style: { text: '{b|Data source:}{n| World Health Organization - Global Health Observatory (2025)}', x: 16, y: 556, verticalAlign: 'middle', rich: footRich }, silent: true },
    { type: 'text', style: { text: 'OurWorldinData.org/obesity | CC BY', x: 833, y: 556, align: 'right', verticalAlign: 'middle', font: '13px Lato', fill: '#858585' }, silent: true },
    { type: 'text', style: { text: '{b|Note:}{n| To allow for comparisons between countries and over time, this metric is age-standardized.}', x: 16, y: 577, verticalAlign: 'middle', rich: footRich }, silent: true }
];

var chart = echarts.init(document.getElementById('chart'));
chart.setOption({
    animation: false,
    backgroundColor: '#fff',
    visualMap: {
        show: false,
        type: 'piecewise',
        seriesIndex: 0,
        pieces: legendColors.map(function (col, i) {
            return { min: legendTicks[i], max: i < legendTicks.length - 1 ? legendTicks[i + 1] : 100, color: col };
        })
    },
    graphic: { elements: headerItems.concat(legendItems) },
    series: [{
        type: 'map',
        map: 'world',
        aspectScale: 1,
        projection: { project: project, unproject: unproject },
        left: box[0],
        top: box[1],
        width: box[2] - box[0],
        height: box[3] - box[1],
        silent: true,
        roam: false,
        label: { show: false },
        emphasis: { disabled: true },
        select: { disabled: true },
        itemStyle: { areaColor: hatchFill, borderColor: '#8f8f8f', borderWidth: 0.5 },
        data: seriesData
    }]
});
</script>
</body>
</html>
